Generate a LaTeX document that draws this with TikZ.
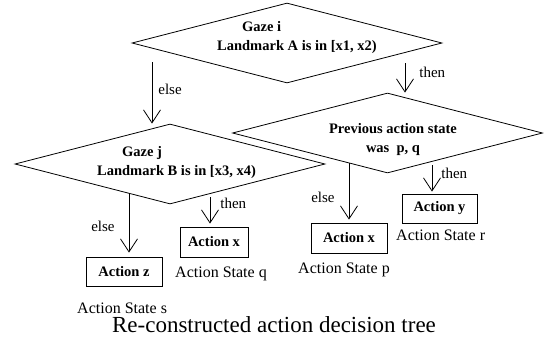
\documentclass[tikz,border=0pt]{standalone}
\usepackage{fontspec}
\setmainfont{Liberation Serif}
\usepackage{tikz}
\usetikzlibrary{arrows.meta,shapes.geometric,positioning}

\begin{document}
\begin{tikzpicture}[x=1pt,y=-1pt,
  decision/.style={draw, diamond, inner sep=0pt, line width=0.8pt,
    minimum width=310pt, minimum height=80pt},
  dtext/.style={inner sep=0pt, font=\fontsize{14.5}{19}\selectfont\bfseries},
  action/.style={draw, line width=0.8pt, inner sep=0pt,
    font=\fontsize{14.5}{17}\selectfont\bfseries},
  state/.style={anchor=base west, inner sep=0pt, font=\fontsize{16}{19}\selectfont},
  lbl/.style={inner sep=0pt, font=\fontsize{15}{18}\selectfont},
  flow/.style={-{Straight Barb[length=13pt,width=17pt]}, line width=0.8pt}]
\useasboundingbox (0,0) rectangle (549,340);

% Decisions
\node[decision] (gazei) at (287,43) {};
\node[dtext, align=left, anchor=west] (gazeitxt) at (217,37.5)
  {\hspace*{25pt}Gaze i\\Landmark A is in [x1, x2)};
\node[decision] (gazej) at (170,164) {};
\node[dtext, align=left, anchor=west] (gazejtxt) at (97,162.5)
  {\hspace*{25pt}Gaze j\\Landmark B is in [x3, x4)};
\node[decision] (prevstate) at (387.5,133) {};
\node[dtext, align=center, baseline=0pt] (prevtxt) at (393,140)
  {Previous action state\\was~ p, q};

% Actions
\node[action, minimum width=76pt, minimum height=29pt] (actz) at (124,271.5) {Action z};
\node[action, minimum width=68pt, minimum height=30pt] (actxq) at (214,242) {Action x};
\node[action, minimum width=76pt, minimum height=30pt] (actxp) at (349,238) {Action x};
\node[action, minimum width=75pt, minimum height=29pt] (acty) at (439.5,208.5) {Action y};

% States
\node[state] (states) at (77,313) {Action State s};
\node[state] (stateq) at (175,277) {Action State q};
\node[state] (statep) at (298,273) {Action State p};
\node[state] (stater) at (396,240) {Action State r};

% Branches
\coordinate (e1) at (152,62);
\coordinate (t1) at (405,63);
\coordinate (e2) at (129,194);
\coordinate (t2) at (210,197);
\coordinate (e3) at (349,163);
\coordinate (t3) at (432,165);
\draw[flow] (e1) -- node[lbl, right=6pt, pos=0.44] {else} (e1 |- gazej.north);
\draw[flow] (t1) -- node[lbl, right=14pt, pos=0.33] {then} (t1 |- prevstate.north);
\draw[flow, shorten >=4pt] (e2) -- node[lbl, left=14pt, pos=0.51] {else} (e2 |- actz.north);
\draw[flow, shorten >=3pt] (t2) -- node[lbl, right=10pt, pos=0.23] {then} (t2 |- actxq.north);
\draw[flow, shorten >=3pt] (e3) -- node[lbl, left=14pt, pos=0.58] {else} (e3 |- actxp.north);
\draw[flow, shorten >=2pt] (t3) -- node[lbl, right=9pt, pos=0.28] {then} (t3 |- acty.north);

% Caption
\node[anchor=base, inner sep=0pt, font=\fontsize{23}{27}\selectfont] (caption)
  at (274,332) {Re-constructed action decision tree};
\end{tikzpicture}
\end{document}
